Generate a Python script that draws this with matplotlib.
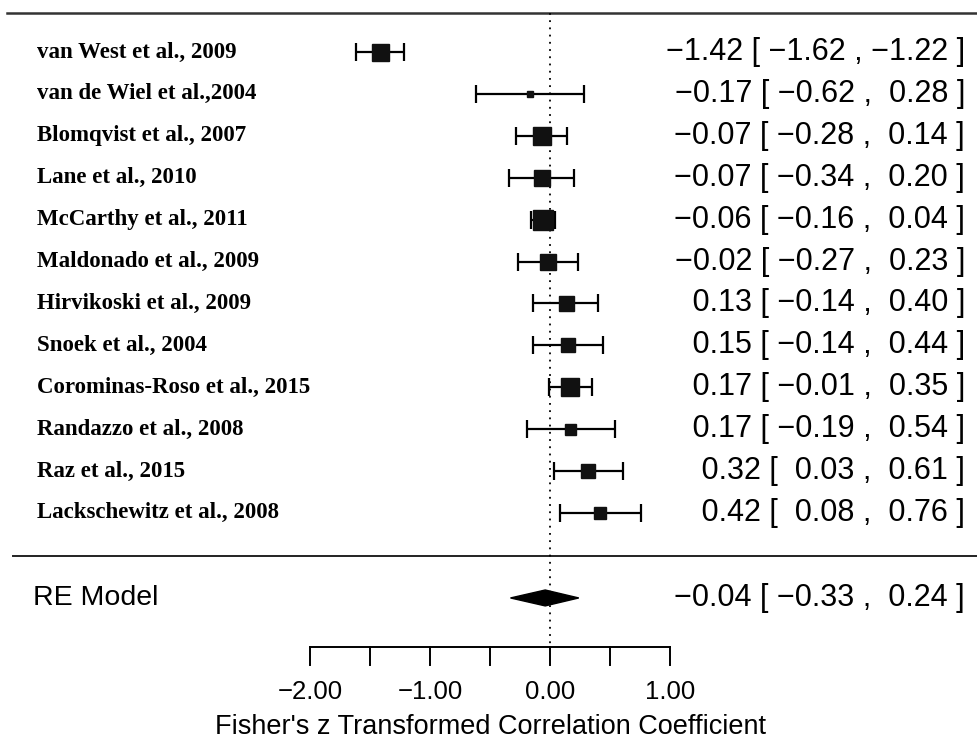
import numpy as np
import matplotlib.pyplot as plt
from matplotlib.patches import Polygon

# study data (Fisher's z, CI)
studies = ['van West et al., 2009', 'van de Wiel et al.,2004', 'Blomqvist et al., 2007',
           'Lane et al., 2010', 'McCarthy et al., 2011', 'Maldonado et al., 2009',
           'Hirvikoski et al., 2009', 'Snoek et al., 2004', 'Corominas-Roso et al., 2015',
           'Randazzo et al., 2008', 'Raz et al., 2015', 'Lackschewitz et al., 2008']
est = [-1.42, -0.17, -0.07, -0.07, -0.06, -0.02, 0.13, 0.15, 0.17, 0.17, 0.32, 0.42]
lo = [-1.62, -0.62, -0.28, -0.34, -0.16, -0.27, -0.14, -0.14, -0.01, -0.19, 0.03, 0.08]
hi = [-1.22, 0.28, 0.14, 0.20, 0.04, 0.23, 0.40, 0.44, 0.35, 0.54, 0.61, 0.76]
# square size in px (study weight)
box_px = [17, 6, 18, 16, 20, 16, 15, 14, 18, 11, 14, 12]

re_est, re_lo, re_hi = -0.04, -0.33, 0.24
ticks = [-2.0, -1.5, -1.0, -0.5, 0.0, 0.5, 1.0]
tick_labels = ['\u22122.00', '', '\u22121.00', '', '0.00', '', '1.00']


def fmt(v, pad=True):
    s = '%.2f' % abs(v)
    if v < 0:
        return '\u2212' + s
    return (' ' + s) if pad else s


def ci_text(e, l, h):
    return '%s [ %s , %s ]' % (fmt(e), fmt(l, pad=l >= 0), fmt(h))


fig = plt.figure(figsize=(9.77, 7.47), dpi=100)
ax = fig.add_axes([0, 0, 1, 1])
ax.set_xlim(-4.591, 3.564)
ax.set_ylim(16.587, -1.241)
ax.axis('off')

rows = np.arange(len(studies))
re_row = 13.03

# lines
ax.plot([-4.53, 3.564], [-0.93, -0.93], color='#333333', lw=1.8)
ax.plot([-4.48, 3.564], [12.03, 12.03], color='#222222', lw=1.4)
ax.plot([0, 0], [-0.93, 14.2], color='black', lw=1.3, ls=(0, (1, 3)))

# studies
for i in rows:
    ax.errorbar(est[i], i, xerr=[[est[i] - lo[i]], [hi[i] - est[i]]], fmt='none',
                ecolor='black', elinewidth=1.6, capsize=6.5, capthick=1.6)
    ax.plot(est[i], i, marker='s', color='#111111', markersize=box_px[i] * 0.72, ls='none')
    ax.text(-4.282, i, studies[i], ha='left', va='center', fontsize=16.5,
            family='Liberation Serif', fontweight='bold')
    ax.text(3.464, i, ci_text(est[i], lo[i], hi[i]),
            ha='right', va='center', fontsize=22, family='Liberation Sans')

# RE model diamond
dh = 0.19
ax.add_patch(Polygon([[re_lo, re_row], [re_est, re_row - dh], [re_hi, re_row], [re_est, re_row + dh]],
                     closed=True, color='black'))
ax.text(-4.316, re_row, 'RE Model', ha='left', va='center', fontsize=20.5, family='Liberation Sans')
ax.text(3.464, re_row, ci_text(re_est, re_lo, re_hi),
        ha='right', va='center', fontsize=22, family='Liberation Sans')

# x axis
ax.plot([ticks[0], ticks[-1]], [14.2, 14.2], color='black', lw=1.4)
for t, lab in zip(ticks, tick_labels):
    ax.plot([t, t], [14.2, 14.63], color='black', lw=1.4)
    ax.text(t, 15.27, lab, ha='center', va='center', fontsize=18.5, family='Liberation Sans')
ax.text(-0.5, 16.11, "Fisher's z Transformed Correlation Coefficient", ha='center', va='center',
        fontsize=19.5, family='Liberation Sans')

fig.savefig('out.png', dpi=100)
